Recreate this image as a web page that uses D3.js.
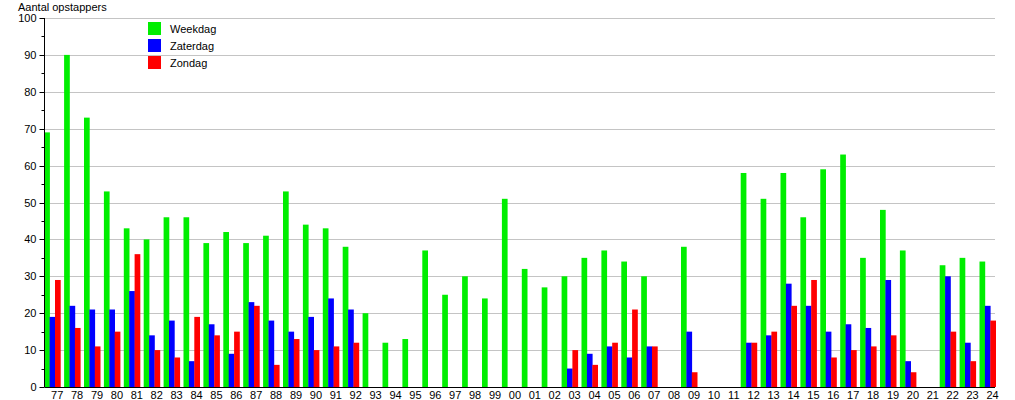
<!DOCTYPE html>
<html>
<head>
<meta charset="utf-8">
<script src="https://cdn.jsdelivr.net/npm/d3@7"></script>
<style>
  body { margin: 0; background: #fff; }
  text { font-family: "Liberation Sans", Arial, sans-serif; font-size: 11px; fill: #000; }
</style>
</head>
<body>
<div id="chart" style="width:1015px;height:400px"></div>
<script>
// years (two-digit labels)
var years = ["77","78","79","80","81","82","83","84","85","86","87","88","89","90","91","92","93","94","95","96","97","98","99",
             "00","01","02","03","04","05","06","07","08","09","10","11","12","13","14","15","16","17","18","19","20","21","22","23","24"];
var weekdag  = [69,90,73,53,43,40,46,46,39,42,39,41,53,44,43,38,20,12,13,37,25,30,24,
                51,32,27,30,35,37,34,30,0,38,0,0,58,51,58,46,59,63,35,48,37,0,33,35,34];
var zaterdag = [19,22,21,21,26,14,18,7,17,9,23,18,15,19,24,21,0,0,0,0,0,0,0,
                0,0,0,5,9,11,8,11,0,15,0,0,12,14,28,22,15,17,16,29,7,0,30,12,22];
var zondag   = [29,16,11,15,36,10,8,19,14,15,22,6,13,10,11,12,0,0,0,0,0,0,0,
                0,0,0,10,6,12,21,11,0,4,0,0,12,15,22,29,8,10,11,14,4,0,15,7,18];
var seriesNames = ["Weekdag", "Zaterdag", "Zondag"];
var colors = ["#00ee00", "#0000ff", "#ff0000"];
var yTicks = [0,10,20,30,40,50,60,70,80,90,100];

var svg = d3.select("#chart").append("svg")
    .attr("width", 1015)
    .attr("height", 400);

var x = d3.scaleBand().domain(years).range([44.2, 999.4]).padding(0);
var y = d3.scaleLinear().domain([0, 100]).range([387, 18]);
var axisLeft = 44.5, gridRight = 995;
var barW = 5.4;

// grid lines
svg.append("g").selectAll("line")
    .data(yTicks.filter(d => d > 0))
    .join("line")
        .attr("x1", axisLeft).attr("x2", gridRight)
        .attr("y1", d => Math.round(y(d)) + 0.5).attr("y2", d => Math.round(y(d)) + 0.5)
        .attr("stroke", "#c4c4c4");

// bars
var all = [weekdag, zaterdag, zondag];
all.forEach(function(vals, si) {
    svg.append("g").selectAll("rect")
        .data(years.map((yr, i) => ({yr: yr, v: vals[i]})).filter(d => d.v > 0))
        .join("rect")
            .attr("x", d => x(d.yr) + si * barW)
            .attr("y", d => y(d.v))
            .attr("width", barW + 0.3)
            .attr("height", d => y(0) - y(d.v))
            .attr("fill", colors[si]);
});

// y axis
var ya = svg.append("g").attr("transform", "translate(" + axisLeft + ",0)");
ya.append("line").attr("x1", 0).attr("x2", 0).attr("y1", y(100)).attr("y2", y(0)).attr("stroke", "#000");
ya.selectAll(".minor")
    .data(d3.range(5, 100, 10))
    .join("line")
        .attr("x1", -3).attr("x2", 0)
        .attr("y1", d => Math.round(y(d)) + 0.5).attr("y2", d => Math.round(y(d)) + 0.5)
        .attr("stroke", "#000");
ya.selectAll(".major")
    .data(yTicks)
    .join("line")
        .attr("x1", -5).attr("x2", 0)
        .attr("y1", d => Math.round(y(d)) + 0.5).attr("y2", d => Math.round(y(d)) + 0.5)
        .attr("stroke", "#000");
ya.selectAll("text")
    .data(yTicks)
    .join("text")
        .attr("x", -8)
        .attr("y", d => y(d) + 4)
        .attr("text-anchor", "end")
        .text(d => d);

// x axis
svg.append("line")
    .attr("x1", axisLeft).attr("x2", gridRight)
    .attr("y1", 387.5).attr("y2", 387.5)
    .attr("stroke", "#000");
svg.append("g").selectAll("text")
    .data(years)
    .join("text")
        .attr("x", d => x(d) + 13)
        .attr("y", 399)
        .attr("text-anchor", "middle")
        .text(d => d);

// title
svg.append("text").attr("x", 18).attr("y", 11).text("Aantal opstappers");

// legend
var leg = svg.append("g").attr("transform", "translate(148,22)");
seriesNames.forEach(function(name, i) {
    leg.append("rect").attr("x", 0).attr("y", i * 17).attr("width", 13).attr("height", 13).attr("fill", colors[i]);
    leg.append("text").attr("x", 22).attr("y", i * 17 + 11).text(name);
});
</script>
</body>
</html>
